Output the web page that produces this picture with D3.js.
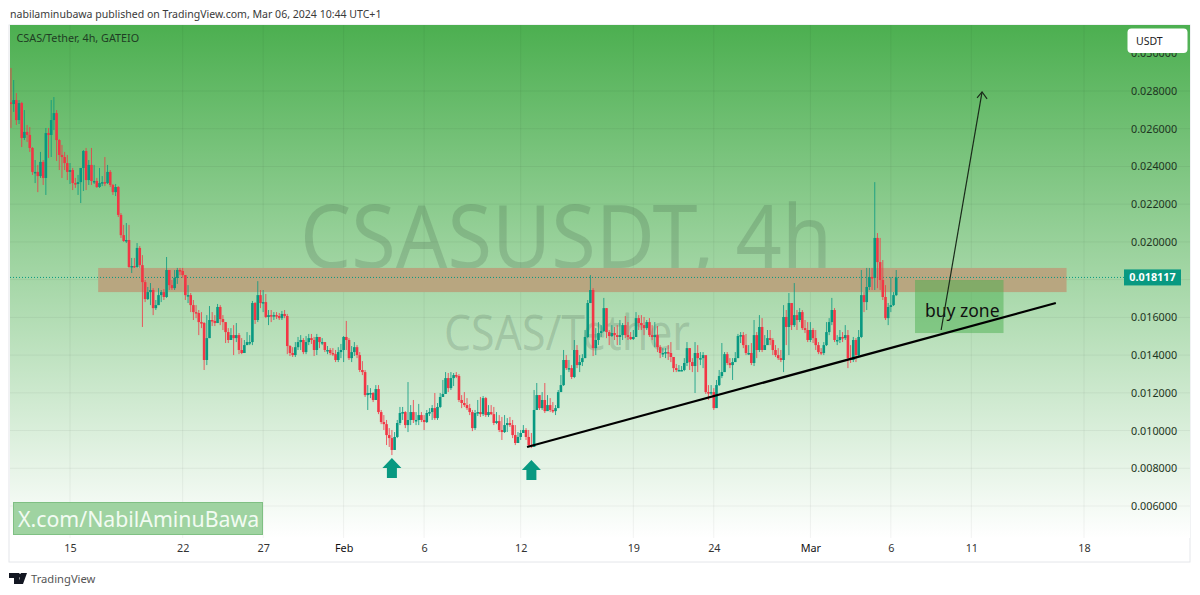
<!DOCTYPE html>
<html>
<head>
<meta charset="utf-8">
<script src="https://cdn.jsdelivr.net/npm/d3@7"></script>
<style>
  html, body { margin: 0; padding: 0; background: #fff; overflow: hidden; }
  text { font-family: "Noto Sans", sans-serif; }
</style>
</head>
<body>
<div id="chart"></div>
<script>
// prices are in thousandths of USDT, one value per 4h candle
const closes = [
  27.31,27.52,26.46,27.36,25.51,25.83,25.67,24.98,23.71,23.71,
  23.49,24.24,23.39,25.77,25.67,26.46,26.83,25.4,24.61,24.5,
  24.18,23.71,23.81,23.12,23.07,23.17,23.92,24.82,23.28,24.08,
  23.23,23.23,22.91,23.12,23.17,23.12,23.71,23.02,22.64,22.91,
  21.43,20.36,20.05,20.1,18.67,18.72,18.67,19.68,18.77,17.87,
  16.97,17.34,17.45,16.49,16.65,17.18,17.34,17.08,18.51,17.71,
  17.55,18.09,18.51,18.46,18.24,17.18,17.18,16.65,16.28,16.23,
  15.75,15.7,13.74,14.9,15.86,15.81,15.7,16.55,15.91,15.75,
  15.22,14.8,15.06,14.9,15.06,14.27,14.11,14.53,14.69,14.69,
  16.76,15.86,17.18,16.76,16.81,16.02,16.12,16.07,16.12,16.07,
  15.96,16.18,16.07,14.48,14.11,14.0,14.42,14.69,14.8,14.16,
  14.69,14.9,14.8,14.27,14.96,14.69,14.69,14.27,14.27,14.11,
  14.05,13.74,14.16,14.27,14.96,14.8,13.84,14.16,14.42,14.0,
  13.21,13.1,11.88,11.99,11.99,11.62,12.2,10.98,10.45,10.34,
  9.76,9.6,8.97,9.66,10.4,10.93,10.98,10.29,10.56,10.98,
  10.56,10.56,10.82,10.56,10.45,10.93,10.98,11.19,10.66,11.25,
  11.78,11.94,12.78,12.25,12.78,12.94,12.89,11.62,11.46,11.35,
  11.19,10.98,10.13,10.93,10.98,10.87,11.72,10.82,10.98,10.87,
  10.4,10.5,10.03,9.92,10.29,10.4,10.29,9.76,9.34,9.66,
  9.87,10.03,9.66,9.23,9.13,11.09,11.88,11.19,11.62,11.03,
  11.35,11.09,11.03,11.19,12.04,12.41,13.74,13.31,13.31,12.84,
  14.27,13.47,13.63,13.84,14.96,16.76,17.45,14.37,14.8,15.17,
  15.27,16.49,15.22,15.01,15.17,15.06,14.96,15.06,15.59,15.06,
  14.96,14.85,14.96,15.96,15.7,15.59,15.43,15.75,15.06,14.96,
  15.06,14.42,14.11,14.11,14.16,14.11,13.9,13.31,13.21,13.21,
  13.21,13.58,14.37,13.63,13.42,14.11,13.84,13.84,14.0,12.04,
  11.99,12.04,11.19,12.41,12.89,13.1,14.05,13.58,13.47,13.63,
  13.84,15.01,15.06,14.53,14.11,14.11,13.58,15.06,14.27,15.49,
  14.27,14.53,14.9,14.8,14.27,14.0,13.84,13.74,16.02,15.49,
  16.76,15.59,16.12,15.86,16.28,15.43,15.33,14.8,15.33,14.9,
  14.53,14.16,14.11,14.53,15.22,15.75,16.39,14.8,14.8,14.96,
  14.9,15.06,13.84,13.74,14.8,14.0,14.96,17.18,16.81,17.61,
  18.14,18.09,20.21,18.93,17.98,17.08,15.96,16.55,16.65,17.18,18.117
];
const highs = [
  29.22,28.58,27.89,27.52,27.42,26.99,26.2,26.09,25.03,24.34,
  24.08,24.77,24.34,26.04,26.04,27.52,27.68,26.99,25.45,25.14,
  24.77,24.61,24.18,23.92,23.39,23.55,23.92,24.87,24.98,24.34,
  24.98,24.08,23.39,23.92,23.49,24.5,24.08,23.81,23.07,23.07,
  22.96,21.53,20.9,21.0,20.9,19.15,19.15,19.94,19.78,19.3,
  17.98,17.61,17.82,17.55,16.92,17.55,17.45,17.5,19.2,18.51,
  17.98,18.51,18.62,18.62,18.62,18.24,17.71,17.29,16.92,16.65,
  16.39,16.28,15.75,16.12,16.6,16.28,16.12,16.71,16.65,16.12,
  15.75,15.43,15.43,15.59,15.7,15.17,14.9,14.8,15.22,15.06,
  16.87,16.81,17.92,17.45,17.45,17.24,16.39,16.39,16.28,16.28,
  16.23,16.34,16.39,16.18,14.53,14.42,14.69,14.96,15.06,14.9,
  15.01,15.12,15.12,14.96,15.12,14.9,14.9,14.69,14.48,14.37,
  14.37,14.27,14.42,14.59,15.01,15.81,14.9,14.48,14.69,14.53,
  14.16,13.68,13.21,12.41,12.25,12.04,12.41,12.41,11.09,10.82,
  10.56,10.13,10.03,9.92,10.56,11.25,11.25,11.03,12.57,11.35,
  11.62,10.98,11.41,10.98,10.82,11.09,11.19,11.35,11.99,11.46,
  11.99,12.68,13.1,13.05,13.1,13.05,13.1,12.99,11.88,12.04,
  11.72,11.41,11.09,11.09,11.62,11.78,11.83,11.78,11.35,11.35,
  11.25,10.98,10.82,10.72,10.82,10.66,10.72,10.56,10.29,9.92,
  10.03,10.29,10.13,10.03,9.87,12.15,12.52,11.88,12.04,12.52,
  11.88,11.72,11.51,11.35,12.15,12.94,14.27,14.0,13.74,13.47,
  14.8,14.53,14.0,14.05,15.33,16.92,18.24,17.55,15.43,15.75,
  15.59,17.03,16.49,15.33,15.59,15.49,15.59,15.86,15.7,16.07,
  15.75,15.22,15.33,16.28,16.12,16.12,16.02,15.86,15.96,15.59,
  15.75,15.54,14.53,14.37,14.37,14.53,14.69,13.84,13.53,13.47,
  13.42,13.84,14.69,14.37,13.84,14.69,14.53,14.16,14.16,13.95,
  12.41,12.41,12.25,12.68,13.21,14.64,14.16,14.16,13.84,13.84,
  14.16,15.12,15.22,15.22,15.12,14.53,14.64,15.86,15.22,16.12,
  15.96,15.06,15.33,15.33,14.9,14.53,14.37,14.27,16.65,16.39,
  17.29,16.76,17.82,16.39,16.49,16.39,15.86,15.75,15.75,15.43,
  15.33,14.69,14.37,14.69,15.75,15.96,17.03,16.49,15.06,15.33,
  15.22,15.59,15.33,14.53,14.96,14.9,15.33,18.51,17.34,18.62,
  18.62,18.62,23.17,20.47,20.21,19.04,17.71,16.76,18.14,17.34,18.51
];
const lows = [
  26.04,26.89,26.2,26.25,25.03,25.4,25.3,24.77,23.55,23.12,
  22.64,23.39,23.02,22.49,24.45,24.5,25.93,24.29,23.81,23.39,
  23.81,23.28,23.07,22.75,22.86,22.49,22.06,22.7,22.75,23.02,
  23.02,23.07,22.86,22.86,22.96,22.96,23.07,22.91,22.49,22.43,
  21.32,20.21,20.0,19.94,18.62,18.35,18.62,18.62,18.62,15.49,
  16.81,16.92,16.65,16.12,16.39,16.65,16.81,16.92,17.03,17.45,
  17.45,17.45,17.77,18.24,18.09,16.92,16.76,16.28,15.86,15.96,
  15.06,15.43,13.21,13.47,14.9,15.54,15.54,15.7,15.59,15.33,
  14.64,14.64,14.8,14.0,14.69,14.05,14.05,14.42,14.53,14.53,
  14.53,15.65,15.75,16.49,16.28,15.96,15.59,15.75,15.86,15.91,
  15.86,15.86,15.96,14.05,13.95,13.9,13.9,14.27,14.27,14.05,
  14.05,14.53,14.59,13.95,14.0,14.37,14.53,14.16,14.05,14.0,
  13.95,13.63,13.63,13.84,13.63,14.27,13.74,13.63,13.95,13.84,
  13.1,12.94,11.78,11.09,11.72,11.51,11.62,10.87,10.34,10.03,
  9.23,9.13,8.7,8.97,9.6,10.29,10.56,10.13,9.92,10.29,
  10.4,10.29,10.29,10.45,10.03,10.4,10.77,10.56,10.56,10.56,
  11.19,11.78,11.94,12.04,12.15,12.36,12.78,11.51,11.19,11.25,
  11.09,10.82,9.97,10.03,10.77,10.72,10.77,10.72,10.72,10.82,
  10.29,10.34,9.92,9.5,9.87,9.92,10.19,9.6,9.23,9.44,
  9.5,9.87,9.5,9.13,9.07,9.13,11.09,11.09,11.09,10.93,
  11.09,10.98,10.93,10.82,11.19,12.04,12.36,13.21,13.1,12.73,
  12.78,13.31,13.1,13.42,13.84,14.9,16.76,13.95,14.0,14.53,
  14.96,15.22,14.9,14.53,14.96,14.8,14.53,14.53,14.8,14.9,
  14.8,14.8,14.8,14.96,15.33,15.33,15.06,15.33,14.96,14.8,
  14.42,14.16,13.84,13.9,13.84,13.74,13.63,13.1,13.1,13.15,
  13.15,13.15,13.42,13.21,13.1,11.99,13.1,13.47,13.31,11.94,
  11.62,11.88,11.09,11.25,12.36,12.78,13.1,13.47,13.31,12.68,
  13.63,13.84,14.64,14.37,14.0,14.0,13.47,13.42,13.84,14.16,
  14.16,14.27,14.8,14.53,14.0,13.9,13.74,13.63,13.1,14.53,
  14.0,15.33,15.49,15.33,15.75,15.33,15.17,14.69,14.69,14.64,
  14.27,14.05,14.0,14.0,14.48,15.06,15.59,14.69,14.53,14.64,
  14.69,14.8,13.31,13.58,13.63,13.63,13.95,14.9,16.28,16.39,
  17.45,17.45,17.45,17.55,17.45,16.92,15.86,15.59,16.28,16.6,17.13
];

const firstCandle = Date.UTC(2024, 0, 11, 8);
const candleHours = 4;

const priceTicks = [6, 8, 10, 12, 14, 16, 18, 20, 22, 24, 26, 28, 30];
const timeTicks = [
  Date.UTC(2024, 0, 15), Date.UTC(2024, 0, 22), Date.UTC(2024, 0, 27), Date.UTC(2024, 1, 1),
  Date.UTC(2024, 1, 6), Date.UTC(2024, 1, 12), Date.UTC(2024, 1, 19), Date.UTC(2024, 1, 24),
  Date.UTC(2024, 2, 1), Date.UTC(2024, 2, 6), Date.UTC(2024, 2, 11), Date.UTC(2024, 2, 18)
];
const timeLabels = ["15", "22", "27", "Feb", "6", "12", "19", "24", "Mar", "6", "11", "18"];

// drawings on the chart, as time and price
const resistanceTimes = [Date.UTC(2024, 0, 16, 18), Date.UTC(2024, 2, 16, 22)];
const resistancePrices = [18.62, 17.34];
const buyTimes = [Date.UTC(2024, 2, 7, 12), Date.UTC(2024, 2, 13)];
const buyPrices = [17.98, 15.17];
const trendTimes = [Date.UTC(2024, 1, 12, 9, 30), Date.UTC(2024, 2, 16, 6)];
const trendPrices = [9.13, 16.76];
const targetTimes = [Date.UTC(2024, 2, 9, 3), Date.UTC(2024, 2, 11, 16)];
const targetPrices = [15.33, 27.95];
const markerTimes = [Date.UTC(2024, 1, 4), Date.UTC(2024, 1, 12, 16)];
const markerPrices = [8.54, 8.44];
const lastPrice = 18.117;

const width = 1200;
const height = 595;
const pane = { left: 10, right: 1190, top: 25, bottom: 562, fade: 538 };
const upColor = "#089981";
const downColor = "#f23645";

const x = d3.scaleUtc()
  .domain([Date.UTC(2024, 0, 15), Date.UTC(2024, 2, 18)])
  .range([70, 1084]);
const y = d3.scaleLinear()
  .domain([6, 28])
  .range([506, 91]);

const candles = closes.map((c, i) => ({
  time: firstCandle + i * candleHours * 3600000,
  open: i === 0 ? 27.4 : closes[i - 1],
  close: c,
  high: highs[i],
  low: lows[i]
}));

const svg = d3.select("#chart")
  .append("svg")
  .attr("width", width)
  .attr("height", height)
  .style("display", "block");

const defs = svg.append("defs");
const grad = defs.append("linearGradient")
  .attr("id", "paneBg")
  .attr("x1", 0).attr("x2", 0).attr("y1", 0).attr("y2", 1);
grad.append("stop").attr("offset", "0%").attr("stop-color", "#4caf50");
grad.append("stop").attr("offset", "100%").attr("stop-color", "#ffffff");
defs.append("clipPath").attr("id", "paneClip")
  .append("rect")
  .attr("x", pane.left)
  .attr("y", pane.top)
  .attr("width", pane.right - pane.left)
  .attr("height", pane.fade - pane.top);

svg.append("text")
  .attr("x", 10).attr("y", 18)
  .attr("font-size", 10.55)
  .attr("fill", "#3a3a3a")
  .text("nabilaminubawa published on TradingView.com, Mar 06, 2024 10:44 UTC+1");

// pane background
svg.append("rect")
  .attr("x", pane.left - 1).attr("y", pane.top)
  .attr("width", pane.right - pane.left + 1).attr("height", pane.bottom - pane.top)
  .attr("fill", "#fff")
  .attr("stroke", "#e4e6ea");
svg.append("rect")
  .attr("x", pane.left).attr("y", pane.top)
  .attr("width", pane.right - pane.left).attr("height", pane.fade - pane.top)
  .attr("fill", "url(#paneBg)");

// grid
svg.append("g").selectAll("line")
  .data(timeTicks)
  .join("line")
  .attr("x1", d => x(d)).attr("x2", d => x(d))
  .attr("y1", pane.top).attr("y2", pane.fade)
  .attr("stroke", "rgba(0,0,0,0.05)");
svg.append("g").selectAll("line")
  .data(priceTicks.filter(d => d < 30))
  .join("line")
  .attr("x1", pane.left).attr("x2", pane.right)
  .attr("y1", d => y(d)).attr("y2", d => y(d))
  .attr("stroke", "rgba(0,0,0,0.05)");

// watermark
svg.append("text")
  .attr("x", 566).attr("y", 268)
  .attr("text-anchor", "middle")
  .attr("font-size", 88)
  .attr("font-family", "Roboto")
  .attr("textLength", 532)
  .attr("lengthAdjust", "spacingAndGlyphs")
  .attr("fill", "rgba(40,60,50,0.17)")
  .text("CSASUSDT, 4h");
svg.append("text")
  .attr("x", 567).attr("y", 350)
  .attr("text-anchor", "middle")
  .attr("font-size", 49)
  .attr("font-family", "Roboto")
  .attr("textLength", 246)
  .attr("lengthAdjust", "spacingAndGlyphs")
  .attr("fill", "rgba(40,60,50,0.17)")
  .text("CSAS/Tether");

svg.append("text")
  .attr("x", 16.5).attr("y", 42)
  .attr("font-size", 10.8)
  .attr("fill", "#1f3d24")
  .text("CSAS/Tether, 4h, GATEIO");

// resistance band sits under the candles
svg.append("rect")
  .attr("x", x(resistanceTimes[0]))
  .attr("y", y(resistancePrices[0]))
  .attr("width", x(resistanceTimes[1]) - x(resistanceTimes[0]))
  .attr("height", y(resistancePrices[1]) - y(resistancePrices[0]))
  .attr("fill", "#b8a680");

svg.append("line")
  .attr("x1", pane.left).attr("x2", 1124)
  .attr("y1", y(lastPrice)).attr("y2", y(lastPrice))
  .attr("stroke", upColor)
  .attr("stroke-dasharray", "1 2");

// candles
const candleG = svg.append("g").attr("clip-path", "url(#paneClip)");
candleG.selectAll("line")
  .data(candles)
  .join("line")
  .attr("x1", d => x(d.time)).attr("x2", d => x(d.time))
  .attr("y1", d => y(d.high)).attr("y2", d => y(d.low))
  .attr("stroke", d => d.close >= d.open ? upColor : downColor)
  .attr("stroke-opacity", 0.8)
  .attr("stroke-width", 1);
candleG.selectAll("rect")
  .data(candles)
  .join("rect")
  .attr("x", d => x(d.time) - 1.3)
  .attr("width", 2.6)
  .attr("y", d => y(Math.max(d.open, d.close)))
  .attr("height", d => Math.max(1.5, Math.abs(y(d.open) - y(d.close))))
  .attr("fill", d => d.close >= d.open ? upColor : downColor);

// buy zone
svg.append("rect")
  .attr("x", x(buyTimes[0]))
  .attr("y", y(buyPrices[0]))
  .attr("width", x(buyTimes[1]) - x(buyTimes[0]))
  .attr("height", y(buyPrices[1]) - y(buyPrices[0]))
  .attr("fill", "#4caf50")
  .attr("fill-opacity", 0.5);
svg.append("text")
  .attr("x", (x(buyTimes[0]) + x(buyTimes[1])) / 2 + 3)
  .attr("y", 317)
  .attr("text-anchor", "middle")
  .attr("font-size", 17.5)
  .attr("fill", "#111")
  .text("buy zone");

// trend line
svg.append("line")
  .attr("x1", x(trendTimes[0])).attr("y1", y(trendPrices[0]))
  .attr("x2", x(trendTimes[1])).attr("y2", y(trendPrices[1]))
  .attr("stroke", "#000")
  .attr("stroke-width", 2.2);

// target arrow
const tx = x(targetTimes[1]);
const ty = y(targetPrices[1]);
svg.append("line")
  .attr("x1", x(targetTimes[0])).attr("y1", y(targetPrices[0]))
  .attr("x2", tx).attr("y2", ty)
  .attr("stroke", "#1a2a1a")
  .attr("stroke-width", 1.2);
svg.append("path")
  .attr("d", `M${tx - 5},${ty + 6}L${tx},${ty}L${tx + 5},${ty + 7}`)
  .attr("fill", "none")
  .attr("stroke", "#1a2a1a")
  .attr("stroke-width", 1.2);

// up markers
svg.append("g").selectAll("path")
  .data(markerTimes)
  .join("path")
  .attr("transform", (d, i) => `translate(${x(d)},${y(markerPrices[i])})`)
  .attr("d", "M0,0L9.5,10L5,10L5,20L-5,20L-5,10L-9.5,10Z")
  .attr("fill", upColor);

// price axis
const priceAxis = d3.axisRight(y)
  .tickValues(priceTicks)
  .tickSize(0)
  .tickFormat(d => (d / 1000).toFixed(6));
const priceG = svg.append("g")
  .attr("transform", "translate(1131,0)")
  .call(priceAxis);
priceG.select(".domain").remove();
priceG.selectAll("text")
  .attr("x", 0)
  .attr("font-size", 10.8)
  .attr("font-family", "Noto Sans")
  .attr("fill", "#1e3522");

// time axis
const timeAxis = d3.axisBottom(x)
  .tickValues(timeTicks)
  .tickSize(0)
  .tickFormat((d, i) => timeLabels[i]);
const timeG = svg.append("g")
  .attr("transform", "translate(0,541)")
  .call(timeAxis);
timeG.select(".domain").remove();
timeG.selectAll("text")
  .attr("y", 3)
  .attr("font-size", 10.8)
  .attr("font-family", "Noto Sans")
  .attr("fill", d => (d === timeTicks[3] || d === timeTicks[8]) ? "#111" : "#333");

// USDT button
svg.append("rect")
  .attr("x", 1127.5).attr("y", 28.5)
  .attr("width", 60).attr("height", 24.5)
  .attr("rx", 4)
  .attr("fill", "#fff");
svg.append("text")
  .attr("x", 1136).attr("y", 45)
  .attr("font-size", 10.5)
  .attr("fill", "#222")
  .text("USDT");

// last price tag
svg.append("rect")
  .attr("x", 1124).attr("y", y(lastPrice) - 8)
  .attr("width", 57).attr("height", 16)
  .attr("fill", upColor);
svg.append("text")
  .attr("x", 1152.5).attr("y", y(lastPrice) + 4)
  .attr("text-anchor", "middle")
  .attr("font-size", 10.8)
  .attr("font-weight", 700)
  .attr("fill", "#fff")
  .text((lastPrice / 1000).toFixed(6));

// handle box
svg.append("rect")
  .attr("x", 13.5).attr("y", 502.5)
  .attr("width", 249).attr("height", 32)
  .attr("fill", "#9fd3a1")
  .attr("stroke", "#7fc083");
svg.append("text")
  .attr("x", 18).attr("y", 526.5)
  .attr("font-size", 21.3)
  .attr("fill", "#f2fbf2")
  .text("X.com/NabilAminuBawa");

// footer
svg.append("path")
  .attr("d", "M9,573h10v11h-5v-6h-5zM21,573h6l-4,11h-5zM19.5,577.5a2,2 0 1 1 0.01,0z")
  .attr("fill", "#131722");
svg.append("text")
  .attr("x", 31).attr("y", 583)
  .attr("font-size", 11.2)
  .attr("fill", "#555")
  .text("TradingView");
</script>
</body>
</html>
